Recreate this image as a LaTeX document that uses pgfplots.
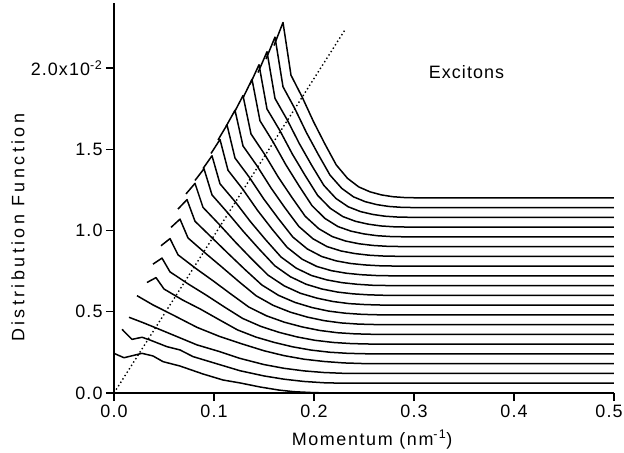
\documentclass[border=0pt]{standalone}
\usepackage{fontspec}
\setmainfont{Liberation Sans}[LetterSpace=6]
\newfontfamily\xlabfont{Liberation Sans}[LetterSpace=9]
\newfontfamily\ylabfont{Liberation Sans}[LetterSpace=19]
\usepackage{pgfplots}
\pgfplotsset{compat=1.18}
\tikzset{crv/.style={black, no markers, line width=1.5bp, line join=round}}
\begin{document}
\begin{tikzpicture}
\begin{axis}[
  scale only axis, width=500bp, height=390bp,
  xmin=0, xmax=0.5, ymin=0, ymax=2.4,
  axis x line*=bottom, axis y line*=left,
  axis line style={line width=1.5bp, black},
  every tick/.style={line width=1.3bp, black},
  major tick length=8bp,
  tick align=outside,
  xtick={0,0.1,0.2,0.3,0.4},
  xticklabels={0.0,0.1,0.2,0.3,0.4},
  extra x ticks={0.5},
  extra x tick labels={0.5},
  extra x tick style={xticklabel style={xshift=-5bp}},
  ytick={0,0.5,1,1.5,2},
  yticklabels={0.0,0.5,1.0,1.5,{2.0x10\textsuperscript{-2}}},
  tick label style={font=\fontsize{18}{21}\selectfont},
  clip=false,
]
\coordinate (O) at (axis cs:0,0);
\coordinate (YL) at (axis cs:0,1.016);
\coordinate (XL) at (axis cs:0.258,0);
\coordinate (EX) at (axis cs:0.3525,1.977);
\addplot[crv, line width=1.4bp, dash pattern=on 1.4bp off 2.6bp] coordinates {(0,0) (0.231,2.235)};
% curve 0
\addplot[crv] coordinates {(0,0.244) (0.01,0.217) (0.028,0.244) (0.039,0.228) (0.049,0.193) (0.066,0.166) (0.089,0.117) (0.109,0.08) (0.126,0.062) (0.146,0.037) (0.165,0.018) (0.18,0.008) (0.2,0.002) (0.22,0) (0.5,0)};
% curve 1
\addplot[crv] coordinates {(0.008,0.392) (0.018,0.33) (0.028,0.343) (0.036,0.326) (0.053,0.285) (0.066,0.265) (0.079,0.224) (0.1,0.185) (0.126,0.137) (0.15,0.105) (0.17,0.085) (0.19,0.071) (0.21,0.063) (0.23,0.06) (0.5,0.06)};
% curve 2
\addplot[crv] coordinates {(0.015,0.466) (0.029,0.433) (0.043,0.398) (0.063,0.347) (0.083,0.296) (0.106,0.254) (0.126,0.213) (0.15,0.175) (0.17,0.152) (0.19,0.136) (0.21,0.126) (0.23,0.121) (0.245,0.12) (0.5,0.12)};
% curve 3
\addplot[crv] coordinates {(0.023,0.599) (0.039,0.542) (0.059,0.48) (0.083,0.404) (0.106,0.347) (0.126,0.306) (0.15,0.26) (0.17,0.23) (0.19,0.208) (0.21,0.194) (0.23,0.185) (0.25,0.181) (0.265,0.18) (0.5,0.18)};
% curve 4
\addplot[crv] coordinates {(0.033,0.68) (0.042,0.71) (0.050,0.64) (0.0684,0.573) (0.0868,0.515) (0.1052,0.451) (0.1236,0.388) (0.142,0.344) (0.1604,0.311) (0.1788,0.284) (0.1972,0.264) (0.2156,0.251) (0.234,0.244) (0.255,0.241) (0.27,0.24) (0.5,0.24)};
% curve 5
\addplot[crv] coordinates {(0.039,0.793) (0.048,0.83) (0.056,0.7455) (0.0742,0.671) (0.0923,0.602) (0.1105,0.529) (0.1286,0.459) (0.1468,0.41) (0.1649,0.3735) (0.1831,0.345) (0.2012,0.324) (0.2194,0.311) (0.2375,0.304) (0.258,0.301) (0.275,0.30) (0.5,0.30)};
% curve 6
\addplot[crv] coordinates {(0.047,0.906) (0.056,0.95) (0.064,0.8504) (0.0817,0.767) (0.0994,0.689) (0.1171,0.608) (0.1348,0.529) (0.1525,0.475) (0.1702,0.436) (0.1879,0.407) (0.2056,0.385) (0.2233,0.371) (0.241,0.364) (0.26,0.361) (0.278,0.36) (0.5,0.36)};
% curve 7
\addplot[crv] coordinates {(0.057,1.019) (0.066,1.07) (0.074,0.9542) (0.0911,0.862) (0.1081,0.774) (0.1252,0.684) (0.1422,0.598) (0.1593,0.539) (0.1763,0.4975) (0.1934,0.467) (0.2104,0.445) (0.2275,0.431) (0.2445,0.424) (0.263,0.421) (0.28,0.42) (0.5,0.42)};
% curve 8
\addplot[crv] coordinates {(0.064,1.132) (0.073,1.19) (0.081,1.0568) (0.0977,0.957) (0.1144,0.857) (0.1311,0.759) (0.1478,0.665) (0.1645,0.601) (0.1812,0.557) (0.1979,0.526) (0.2146,0.504) (0.2313,0.491) (0.248,0.484) (0.266,0.481) (0.283,0.48) (0.5,0.48)};
% curve 9
\addplot[crv] coordinates {(0.072,1.225) (0.081,1.29) (0.089,1.1423) (0.1053,1.037) (0.1215,0.928) (0.1378,0.824) (0.154,0.7255) (0.1703,0.659) (0.1865,0.6135) (0.2028,0.584) (0.219,0.563) (0.2353,0.55) (0.2515,0.544) (0.269,0.541) (0.286,0.54) (0.5,0.54)};
% curve 10
\addplot[crv] coordinates {(0.081,1.308) (0.090,1.38) (0.098,1.219) (0.1137,1.109) (0.1294,0.994) (0.1451,0.886) (0.1608,0.783) (0.1765,0.715) (0.1922,0.669) (0.2079,0.64) (0.2236,0.621) (0.2393,0.61) (0.255,0.604) (0.272,0.601) (0.289,0.6) (0.5,0.6)};
% curve 11
\addplot[crv] coordinates {(0.089,1.381) (0.098,1.46) (0.106,1.2874) (0.1213,1.176) (0.1365,1.054) (0.1518,0.942) (0.167,0.837) (0.1823,0.768) (0.1975,0.723) (0.2128,0.696) (0.228,0.679) (0.2433,0.669) (0.2585,0.663) (0.276,0.661) (0.292,0.66) (0.5,0.66)};
% curve 12
\addplot[crv] coordinates {(0.097,1.474) (0.106,1.56) (0.114,1.3708) (0.1288,1.254) (0.1436,1.1235) (0.1584,1.006) (0.1732,0.896) (0.188,0.824) (0.2028,0.7786) (0.2176,0.7525) (0.2324,0.737) (0.2472,0.728) (0.262,0.723) (0.279,0.721) (0.295,0.72) (0.5,0.72)};
% curve 13
\addplot[crv] coordinates {(0.104,1.557) (0.113,1.65) (0.121,1.4459) (0.1355,1.326) (0.1499,1.193) (0.1644,1.073) (0.1788,0.96) (0.1933,0.8865) (0.2077,0.84) (0.2222,0.813) (0.2366,0.797) (0.2511,0.788) (0.2655,0.783) (0.282,0.781) (0.298,0.78) (0.5,0.78)};
% curve 14
\addplot[crv] coordinates {(0.112,1.64) (0.121,1.74) (0.129,1.5204) (0.143,1.398) (0.157,1.262) (0.171,1.139) (0.185,1.024) (0.199,0.949) (0.213,0.901) (0.227,0.874) (0.241,0.858) (0.255,0.848) (0.269,0.843) (0.285,0.841) (0.3,0.84) (0.5,0.84)};
% curve 15
\addplot[crv] coordinates {(0.120,1.723) (0.129,1.83) (0.137,1.5943) (0.1506,1.469) (0.1641,1.33) (0.1777,1.2055) (0.1912,1.0875) (0.2048,1.011) (0.2183,0.9625) (0.2319,0.9347) (0.2454,0.918) (0.259,0.908) (0.2725,0.903) (0.288,0.901) (0.303,0.9) (0.5,0.9)};
% curve 16
\addplot[crv] coordinates {(0.129,1.816) (0.138,1.93) (0.146,1.6751) (0.159,1.546) (0.172,1.403) (0.185,1.275) (0.198,1.153) (0.211,1.074) (0.224,1.024) (0.237,0.996) (0.25,0.979) (0.263,0.968) (0.276,0.963) (0.291,0.961) (0.306,0.96) (0.5,0.96)};
% curve 17
\addplot[crv] coordinates {(0.136,1.899) (0.145,2.02) (0.153,1.7478) (0.1657,1.617) (0.1783,1.471) (0.191,1.34) (0.2036,1.2165) (0.2163,1.1365) (0.2289,1.0855) (0.2416,1.0564) (0.2542,1.039) (0.2669,1.028) (0.2795,1.023) (0.294,1.021) (0.309,1.02) (0.5,1.02)};
% curve 18
\addplot[crv] coordinates {(0.144,1.972) (0.153,2.10) (0.161,1.8128) (0.1732,1.681) (0.1854,1.534) (0.1976,1.402) (0.2098,1.278) (0.222,1.197) (0.2342,1.146) (0.2464,1.1166) (0.2586,1.099) (0.2708,1.088) (0.283,1.083) (0.297,1.081) (0.312,1.08) (0.5,1.08)};
% curve 19
\addplot[crv] coordinates {(0.152,2.055) (0.161,2.19) (0.169,1.8845) (0.1808,1.7505) (0.1925,1.6016) (0.2043,1.4676) (0.216,1.341) (0.2278,1.259) (0.2395,1.207) (0.2513,1.1772) (0.263,1.159) (0.2748,1.148) (0.2865,1.143) (0.3,1.141) (0.315,1.14) (0.5,1.14)};
% curve 20
\addplot[crv] coordinates {(0.160,2.138) (0.169,2.28) (0.177,1.9556) (0.1883,1.8196) (0.1996,1.6685) (0.2109,1.5325) (0.2222,1.404) (0.2335,1.321) (0.2448,1.268) (0.2561,1.2378) (0.2674,1.219) (0.2787,1.208) (0.29,1.203) (0.303,1.201) (0.318,1.2) (0.5,1.2)};
\end{axis}
\node[anchor=base, font=\xlabfont\fontsize{18}{21}\selectfont] at ([yshift=-52bp]XL) {Momentum (nm\textsuperscript{-1})};
\node[rotate=90, anchor=center, font=\ylabfont\fontsize{18}{21}\selectfont] at ([xshift=-96bp]YL) {Distribution Function};
\node[anchor=center, font=\fontsize{18}{21}\selectfont] at (EX) {Excitons};
\pgfresetboundingbox
\useasboundingbox ([shift={(-114bp,-60bp)}]O) rectangle ([shift={(510bp,393bp)}]O);
\end{tikzpicture}
\end{document}
